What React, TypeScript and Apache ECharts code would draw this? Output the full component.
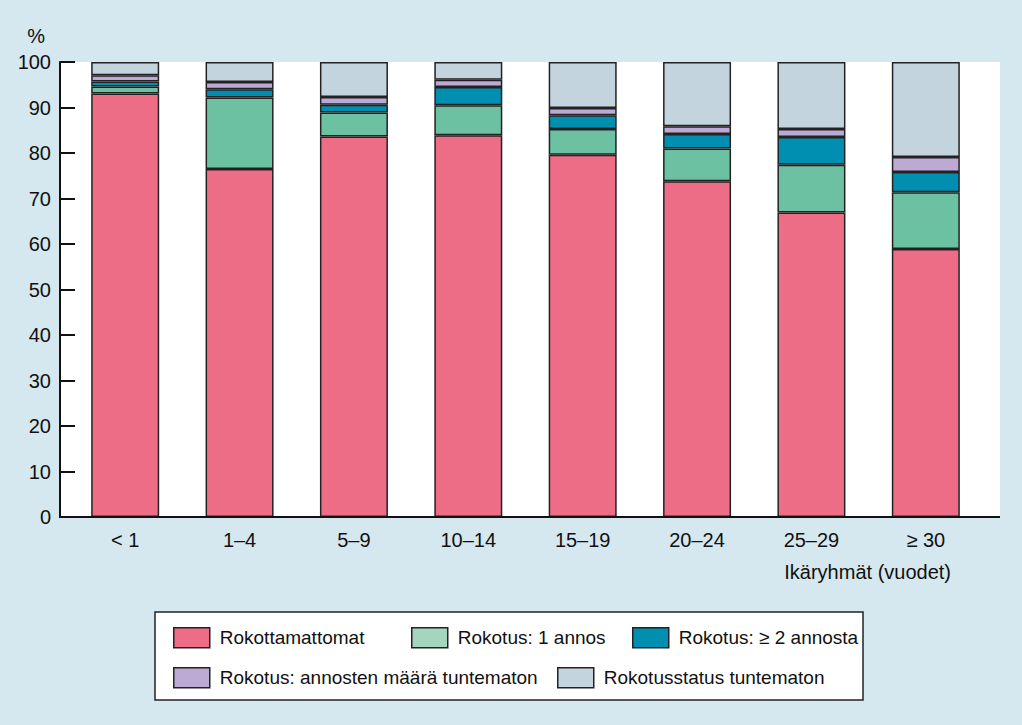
import React, { useEffect, useRef } from "react";
import * as echarts from "echarts";

const categories = ["< 1", "1–4", "5–9", "10–14", "15–19", "20–24", "25–29", "≥ 30"];
const unvaccinated = [93.1, 76.5, 83.6, 83.9, 79.6, 73.8, 66.9, 58.9];
const oneDose = [1.5, 15.7, 5.3, 6.6, 5.7, 7.2, 10.5, 12.5];
const twoDoses = [1.1, 1.8, 1.7, 4.0, 3.0, 3.2, 6.1, 4.4];
const unknownDoses = [1.4, 1.6, 1.7, 1.6, 1.6, 1.7, 1.8, 3.3];
const unknownStatus = [2.9, 4.4, 7.7, 3.9, 10.1, 14.1, 14.7, 20.9];

const seriesNames = [
  "Rokottamattomat",
  "Rokotus: 1 annos",
  "Rokotus: ≥ 2 annosta",
  "Rokotus: annosten määrä tuntematon",
  "Rokotusstatus tuntematon",
];
const seriesValues = [unvaccinated, oneDose, twoDoses, unknownDoses, unknownStatus];
const seriesColors = ["#ed6d87", "#6cc1a3", "#008fb0", "#bdaad4", "#c4d4de"];
const legendIconColors = ["#ed6d87", "#a4d5bf", "#008fb0", "#bdaad4", "#c4d4de"];

const FONT = "'Liberation Sans', Arial, sans-serif";

export default function App() {
  const ref = useRef<HTMLDivElement>(null);

  useEffect(() => {
    if (!ref.current) return;
    const chart = echarts.init(ref.current, null, { renderer: "svg" });

    const legendPos = [
      { left: 173, top: 627 },
      { left: 411, top: 627 },
      { left: 632, top: 627 },
      { left: 173, top: 667 },
      { left: 557, top: 667 },
    ];

    const option: any = {
      animation: false,
      backgroundColor: "#d5e8ef",
      textStyle: { fontFamily: FONT },
      grid: { left: 68, right: 39, top: 62, bottom: 208, containLabel: false },
      xAxis: {
        type: "category",
        data: categories,
        axisLine: { show: false },
        axisTick: { show: false },
        axisLabel: { color: "#111", fontSize: 20, margin: 13, fontFamily: FONT },
      },
      yAxis: {
        type: "value",
        min: 0,
        max: 100,
        interval: 10,
        offset: 8,
        name: "%",
        nameLocation: "end",
        nameGap: 16,
        nameTextStyle: { color: "#111", fontSize: 20, fontFamily: FONT, align: "right", padding: [0, 15, 0, 0] },
        axisLine: { show: true, lineStyle: { color: "#111", width: 2 } },
        axisTick: { show: true, inside: true, length: 15, lineStyle: { color: "#111", width: 2 } },
        axisLabel: { color: "#111", fontSize: 20, margin: 9, fontFamily: FONT },
        splitLine: { show: false },
      },
      legend: seriesNames.map((name, i) => ({
        data: [{ name, itemStyle: { color: legendIconColors[i] } }],
        left: legendPos[i].left,
        top: legendPos[i].top,
        orient: "horizontal",
        padding: 0,
        itemWidth: 36,
        itemHeight: 20,
        icon: "rect",
        selectedMode: false,
        itemStyle: { borderColor: "#222", borderWidth: 1.5 },
        textStyle: { color: "#111", fontSize: 19, fontFamily: FONT, padding: [0, 0, 0, 5] },
      })),
      graphic: [
        {
          type: "rect",
          z: -10,
          silent: true,
          shape: { x: 60, y: 62, width: 940, height: 455 },
          style: { fill: "#ffffff" },
        },
        {
          type: "line",
          z: 10,
          silent: true,
          shape: { x1: 59, y1: 517, x2: 1000, y2: 517 },
          style: { stroke: "#111", lineWidth: 2 },
        },
        {
          type: "rect",
          z: -10,
          silent: true,
          shape: { x: 155, y: 612, width: 708, height: 88 },
          style: { fill: "#ffffff", stroke: "#222", lineWidth: 1.5 },
        },
        {
          type: "text",
          silent: true,
          style: {
            text: "Ikäryhmät (vuodet)",
            x: 951,
            y: 572,
            align: "right",
            verticalAlign: "middle",
            fill: "#111",
            fontSize: 20,
            fontFamily: FONT,
          },
        },
      ],
      series: seriesNames.map((name, i) => ({
        name,
        type: "bar",
        stack: "total",
        barWidth: 68,
        data: seriesValues[i],
        itemStyle: { color: seriesColors[i], borderColor: "#222", borderWidth: 1.5 },
        emphasis: { disabled: true },
      })),
    };

    chart.setOption(option);
    return () => chart.dispose();
  }, []);

  return (
    <div
      ref={ref}
      style={{ position: "fixed", left: 0, top: 0, width: 1022, height: 725 }}
    />
  );
}
